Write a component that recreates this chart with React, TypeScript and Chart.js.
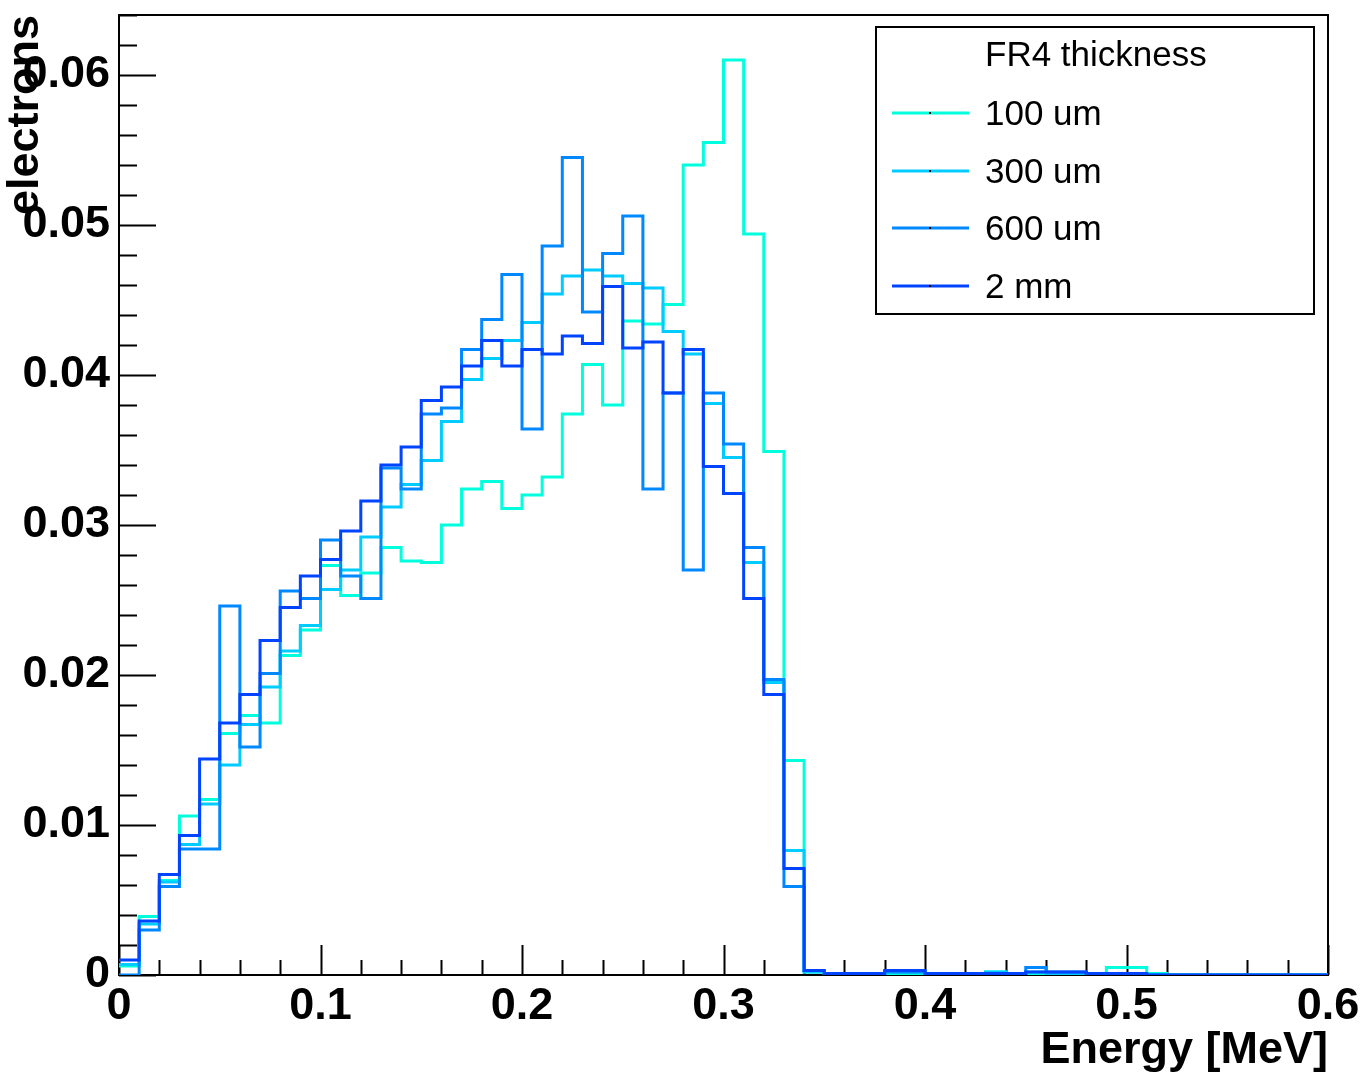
import { useEffect, useRef } from 'react';
import { Chart, registerables } from 'chart.js';

Chart.register(...registerables);

// ---- data ----
const BIN_WIDTH = 0.01; // MeV
const N_BINS = 60;

const SERIES_LABELS = ['100 um', '300 um', '600 um', '2 mm'];
const SERIES_COLORS = ['#00FFDC', '#00CCFF', '#0088FF', '#0044FF'];

const FR4_100UM = [
  0.0006, 0.0039, 0.0063, 0.0106, 0.0117, 0.0161, 0.0173, 0.0168, 0.0213, 0.0230,
  0.0273, 0.0253, 0.0268, 0.0285, 0.0276, 0.0275, 0.0300, 0.0324, 0.0329, 0.0311,
  0.0320, 0.0332, 0.0374, 0.0407, 0.0380, 0.0436, 0.0434, 0.0447, 0.0540, 0.0555,
  0.0610, 0.0494, 0.0349, 0.0143, 0.0002, 0.0001, 0.0001, 0.0001, 0.0001, 0.0001,
  0.0001, 0.0001, 0.0001, 0.0002, 0.0001, 0.0001, 0.0001, 0.0001, 0.0001, 0.0005,
  0.0005, 0.0001, 0.0000, 0.0000, 0.0000, 0.0000, 0.0000, 0.0000, 0.0000, 0.0000,
];

const FR4_300UM = [
  0.0007, 0.0034, 0.0062, 0.0087, 0.0114, 0.0140, 0.0167, 0.0192, 0.0216, 0.0233,
  0.0257, 0.0270, 0.0292, 0.0312, 0.0327, 0.0343, 0.0369, 0.0397, 0.0411, 0.0423,
  0.0435, 0.0454, 0.0466, 0.0470, 0.0466, 0.0461, 0.0458, 0.0429, 0.0414, 0.0381,
  0.0345, 0.0275, 0.0195, 0.0083, 0.0002, 0.0001, 0.0001, 0.0001, 0.0002, 0.0002,
  0.0001, 0.0001, 0.0001, 0.0002, 0.0001, 0.0002, 0.0001, 0.0001, 0.0001, 0.0001,
  0.0001, 0.0000, 0.0000, 0.0000, 0.0000, 0.0000, 0.0000, 0.0000, 0.0000, 0.0000,
];

const FR4_600UM = [
  0.0000, 0.0030, 0.0059, 0.0084, 0.0084, 0.0246, 0.0152, 0.0201, 0.0256, 0.0251,
  0.0290, 0.0266, 0.0251, 0.0338, 0.0324, 0.0374, 0.0378, 0.0417, 0.0437, 0.0467,
  0.0364, 0.0486, 0.0545, 0.0442, 0.0481, 0.0506, 0.0324, 0.0388, 0.0270, 0.0388,
  0.0354, 0.0285, 0.0197, 0.0059, 0.0003, 0.0001, 0.0001, 0.0001, 0.0002, 0.0002,
  0.0001, 0.0001, 0.0001, 0.0001, 0.0001, 0.0005, 0.0002, 0.0002, 0.0001, 0.0001,
  0.0001, 0.0000, 0.0000, 0.0000, 0.0000, 0.0000, 0.0000, 0.0000, 0.0000, 0.0000,
];

const FR4_2MM = [
  0.0010, 0.0036, 0.0067, 0.0093, 0.0144, 0.0168, 0.0187, 0.0223, 0.0245, 0.0266,
  0.0277, 0.0296, 0.0316, 0.0340, 0.0352, 0.0383, 0.0392, 0.0406, 0.0423, 0.0406,
  0.0417, 0.0414, 0.0426, 0.0421, 0.0459, 0.0418, 0.0422, 0.0388, 0.0417, 0.0339,
  0.0321, 0.0251, 0.0187, 0.0071, 0.0003, 0.0001, 0.0001, 0.0001, 0.0003, 0.0003,
  0.0001, 0.0001, 0.0001, 0.0001, 0.0001, 0.0002, 0.0002, 0.0002, 0.0001, 0.0001,
  0.0001, 0.0000, 0.0000, 0.0000, 0.0000, 0.0000, 0.0000, 0.0000, 0.0000, 0.0000,
];

const X_TICKS = [0, 0.1, 0.2, 0.3, 0.4, 0.5, 0.6];
const X_TICK_LABELS = ['0', '0.1', '0.2', '0.3', '0.4', '0.5', '0.6'];
const Y_TICKS = [0, 0.01, 0.02, 0.03, 0.04, 0.05, 0.06];
const Y_TICK_LABELS = ['0', '0.01', '0.02', '0.03', '0.04', '0.05', '0.06'];

const X_TITLE = 'Energy [MeV]';
const Y_TITLE = 'electrons';
const LEGEND_TITLE = 'FR4 thickness';

const X_MIN = 0;
const X_MAX = 0.6;
const Y_MIN = 0;
const Y_MAX = 0.064;

// ---- helpers ----
const FONT = '"Liberation Sans", Arial, Helvetica, sans-serif';

function histPoints(values: number[]) {
  const pts = values.map((v, i) => ({ x: i * BIN_WIDTH, y: v }));
  pts.push({ x: N_BINS * BIN_WIDTH, y: values[values.length - 1] });
  return pts;
}

const rootPlugin = {
  id: 'rootStyle',
  beforeDatasetsDraw(chart: any) {
    const { ctx, chartArea: a, scales } = chart;
    const x = scales.x;
    const y = scales.y;
    ctx.save();
    ctx.strokeStyle = '#000';
    ctx.lineWidth = 2;
    ctx.strokeRect(a.left, a.top, a.right - a.left, a.bottom - a.top);
    ctx.beginPath();
    // x ticks: minor every 0.02, major every 0.1
    for (let k = 0; k <= 30; k++) {
      const px = Math.round(x.getPixelForValue(k * 0.02)) + 0.5;
      const len = k % 5 === 0 ? 30 : 15;
      ctx.moveTo(px, a.bottom);
      ctx.lineTo(px, a.bottom - len);
    }
    // y ticks: minor every 0.002, major every 0.01
    for (let k = 0; k <= 32; k++) {
      const py = Math.round(y.getPixelForValue(k * 0.002)) + 0.5;
      const len = k % 5 === 0 ? 37 : 18;
      ctx.moveTo(a.left, py);
      ctx.lineTo(a.left + len, py);
    }
    ctx.stroke();
    ctx.restore();
  },
  afterDraw(chart: any) {
    const { ctx, chartArea: a } = chart;
    ctx.save();
    // axis titles
    ctx.fillStyle = '#000';
    ctx.font = `bold 45px ${FONT}`;
    ctx.textAlign = 'right';
    ctx.textBaseline = 'alphabetic';
    ctx.fillText(X_TITLE, a.right, 1063);
    ctx.save();
    ctx.translate(38, a.top);
    ctx.rotate(-Math.PI / 2);
    ctx.textAlign = 'right';
    ctx.fillText(Y_TITLE, 0, 0);
    ctx.restore();

    // legend box
    const bx = 876, by = 27, bw = 438, bh = 287;
    ctx.fillStyle = '#fff';
    ctx.fillRect(bx, by, bw, bh);
    ctx.strokeStyle = '#000';
    ctx.lineWidth = 2;
    ctx.strokeRect(bx, by, bw, bh);
    ctx.fillStyle = '#000';
    ctx.font = `35px ${FONT}`;
    ctx.textAlign = 'left';
    ctx.fillText(LEGEND_TITLE, 985, 66);
    const rowY = [113, 171, 228, 286];
    chart.data.datasets.forEach((ds: any, i: number) => {
      const ly = rowY[i];
      ctx.strokeStyle = ds.borderColor;
      ctx.lineWidth = 3;
      ctx.beginPath();
      ctx.moveTo(892, ly);
      ctx.lineTo(969, ly);
      ctx.stroke();
      ctx.fillStyle = '#000';
      ctx.fillRect(929, ly - 1, 2, 2);
      ctx.fillText(ds.label, 985, ly + 12);
    });
    ctx.restore();
  },
};

export default function App() {
  const canvasRef = useRef<HTMLCanvasElement | null>(null);

  useEffect(() => {
    const canvas = canvasRef.current;
    if (!canvas) return;
    const seriesValues = [FR4_100UM, FR4_300UM, FR4_600UM, FR4_2MM];
    const datasets = seriesValues.map((vals, i) => ({
      label: SERIES_LABELS[i],
      data: histPoints(vals),
      borderColor: SERIES_COLORS[i],
      backgroundColor: SERIES_COLORS[i],
      borderWidth: 3,
      pointRadius: 0,
      pointHoverRadius: 0,
      fill: false,
      tension: 0,
      stepped: true as const,
      order: seriesValues.length - i,
      borderCapStyle: 'butt' as const,
      borderJoinStyle: 'miter' as const,
    }));

    const tickFont = { family: FONT, weight: 'bold' as const, size: 45 };

    const chart = new Chart(canvas, {
      type: 'line',
      data: { datasets },
      options: {
        animation: false,
        responsive: false,
        devicePixelRatio: 1,
        layout: { padding: { left: 0, right: 38, top: 15, bottom: 0 } },
        plugins: { legend: { display: false }, tooltip: { enabled: false } },
        scales: {
          x: {
            type: 'linear',
            min: X_MIN,
            max: X_MAX,
            grid: { display: false, drawTicks: false },
            border: { display: false },
            afterBuildTicks: (s: any) => {
              s.ticks = X_TICKS.map((v) => ({ value: v }));
            },
            afterFit: (s: any) => {
              s.height = 101;
              s.paddingLeft = 0;
              s.paddingRight = 0;
            },
            ticks: {
              callback: (_v: any, i: number) => X_TICK_LABELS[i],
              font: tickFont,
              color: '#000',
              padding: 5,
              maxRotation: 0,
              minRotation: 0,
              autoSkip: false,
            },
          },
          y: {
            type: 'linear',
            min: Y_MIN,
            max: Y_MAX,
            grid: { display: false, drawTicks: false },
            border: { display: false },
            afterBuildTicks: (s: any) => {
              s.ticks = Y_TICKS.map((v) => ({ value: v }));
            },
            afterFit: (s: any) => {
              s.width = 119;
              s.paddingTop = 0;
              s.paddingBottom = 0;
            },
            ticks: {
              callback: (_v: any, i: number) => Y_TICK_LABELS[i],
              font: tickFont,
              color: '#000',
              padding: 9,
              autoSkip: false,
            },
          },
        },
      },
      plugins: [rootPlugin],
    });

    return () => chart.destroy();
  }, []);

  return (
    <div style={{ position: 'absolute', left: 0, top: 0, width: 1366, height: 1076, background: '#fff' }}>
      <canvas ref={canvasRef} width={1366} height={1076} style={{ display: 'block' }} />
    </div>
  );
}
